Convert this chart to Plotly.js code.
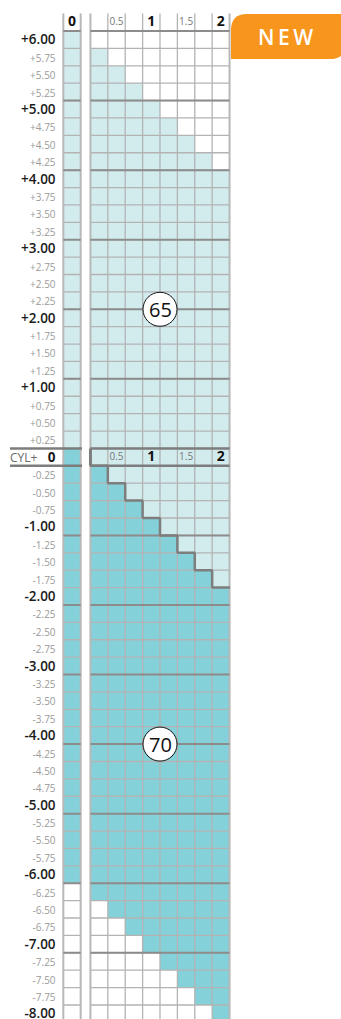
<!DOCTYPE html>
<html><head><meta charset="utf-8">
<script src="https://cdn.plot.ly/plotly-3.0.1.min.js"></script>
<style>html,body{margin:0;padding:0;background:#fff}#chart{width:341px;height:1019px}</style>
</head><body><div id="chart"></div>
<script>
// ---- data ----
const sphere = [6.00,5.75,5.50,5.25,5.00,4.75,4.50,4.25,4.00,3.75,3.50,3.25,3.00,2.75,2.50,2.25,2.00,1.75,1.50,1.25,1.00,0.75,0.50,0.25,
  0,
  -0.25,-0.50,-0.75,-1.00,-1.25,-1.50,-1.75,-2.00,-2.25,-2.50,-2.75,-3.00,-3.25,-3.50,-3.75,-4.00,-4.25,-4.50,-4.75,-5.00,-5.25,-5.50,-5.75,-6.00,-6.25,-6.50,-6.75,-7.00,-7.25,-7.50,-7.75,-8.00];
const cylinder = [0.25,0.50,0.75,1.00,1.25,1.50,1.75,2.00];
const cylHeaderValues = [0.5,1,1.5,2];
const cylHeaderLabels = ['0.5','<b>1</b>','1.5','<b>2</b>'];
// 0 = not available, 1 = index 65, 2 = index 70
const col0Avail = [1,1,1,1,1,1,1,1,1,1,1,1,1,1,1,1,1,1,1,1,1,1,1,1,
  2,
  2,2,2,2,2,2,2,2,2,2,2,2,2,2,2,2,2,2,2,2,2,2,2,2,0,0,0,0,0,0,0,0];
const cylAvail = [
  [0,0,0,0,0,0,0,0], // +6.00
  [1,0,0,0,0,0,0,0], // +5.75
  [1,1,0,0,0,0,0,0], // +5.50
  [1,1,1,0,0,0,0,0], // +5.25
  [1,1,1,1,0,0,0,0], // +5.00
  [1,1,1,1,1,0,0,0], // +4.75
  [1,1,1,1,1,1,0,0], // +4.50
  [1,1,1,1,1,1,1,0], // +4.25
  [1,1,1,1,1,1,1,1], // +4.00
  [1,1,1,1,1,1,1,1], // +3.75
  [1,1,1,1,1,1,1,1], // +3.50
  [1,1,1,1,1,1,1,1], // +3.25
  [1,1,1,1,1,1,1,1], // +3.00
  [1,1,1,1,1,1,1,1], // +2.75
  [1,1,1,1,1,1,1,1], // +2.50
  [1,1,1,1,1,1,1,1], // +2.25
  [1,1,1,1,1,1,1,1], // +2.00
  [1,1,1,1,1,1,1,1], // +1.75
  [1,1,1,1,1,1,1,1], // +1.50
  [1,1,1,1,1,1,1,1], // +1.25
  [1,1,1,1,1,1,1,1], // +1.00
  [1,1,1,1,1,1,1,1], // +0.75
  [1,1,1,1,1,1,1,1], // +0.50
  [1,1,1,1,1,1,1,1], // +0.25
  [1,1,1,1,1,1,1,1], // 0 (CYL+ row)
  [2,1,1,1,1,1,1,1], // -0.25
  [2,2,1,1,1,1,1,1], // -0.50
  [2,2,2,1,1,1,1,1], // -0.75
  [2,2,2,2,1,1,1,1], // -1.00
  [2,2,2,2,2,1,1,1], // -1.25
  [2,2,2,2,2,2,1,1], // -1.50
  [2,2,2,2,2,2,2,1], // -1.75
  [2,2,2,2,2,2,2,2], // -2.00
  [2,2,2,2,2,2,2,2], // -2.25
  [2,2,2,2,2,2,2,2], // -2.50
  [2,2,2,2,2,2,2,2], // -2.75
  [2,2,2,2,2,2,2,2], // -3.00
  [2,2,2,2,2,2,2,2], // -3.25
  [2,2,2,2,2,2,2,2], // -3.50
  [2,2,2,2,2,2,2,2], // -3.75
  [2,2,2,2,2,2,2,2], // -4.00
  [2,2,2,2,2,2,2,2], // -4.25
  [2,2,2,2,2,2,2,2], // -4.50
  [2,2,2,2,2,2,2,2], // -4.75
  [2,2,2,2,2,2,2,2], // -5.00
  [2,2,2,2,2,2,2,2], // -5.25
  [2,2,2,2,2,2,2,2], // -5.50
  [2,2,2,2,2,2,2,2], // -5.75
  [2,2,2,2,2,2,2,2], // -6.00
  [2,2,2,2,2,2,2,2], // -6.25
  [0,2,2,2,2,2,2,2], // -6.50
  [0,0,2,2,2,2,2,2], // -6.75
  [0,0,0,2,2,2,2,2], // -7.00
  [0,0,0,0,2,2,2,2], // -7.25
  [0,0,0,0,0,2,2,2], // -7.50
  [0,0,0,0,0,0,2,2], // -7.75
  [0,0,0,0,0,0,0,2]  // -8.00
];
const indexLabels = ['65','70'];
const indexCyl = [1.125,1.125];
const indexSph = [2.125,-4.125];

// ---- styling ----
const FONT = 'Open Sans, sans-serif';
const C_WHITE = '#ffffff', C65 = '#d2ecee', C70 = '#84d1da';
const THIN = '#b3b3b3', THICK = '#8c8c8c', DARK = '#7d7d7d';
const W = 341, H = 1019;
const px = p => p / W, py = p => 1 - p / H;
const HEADER_Y = 6.25, HALF = 0.125;

function tickText(v){
  if (v === 0) return '<span style="font-size:12px;color:#6a6a6a;font-weight:400">CYL+</span>\u00a0\u00a0\u00a0<span style="font-weight:700">0</span>';
  const s = (v > 0 ? '+' : '') + v.toFixed(2);
  if (Number.isInteger(v)) return '<span style="font-weight:600">' + s + '</span>';
  return '<span style="font-size:10px;color:#9a9a9a">' + s + '</span>';
}

const cs = [[0,C_WHITE],[0.5,C65],[1,C70]];
const traces = [
  {type:'heatmap', x:[-HALF, HALF], y:sphere, z:col0Avail.map(v=>[v]), xaxis:'x', yaxis:'y',
   colorscale:cs, zmin:0, zmax:2, showscale:false, hoverinfo:'skip'},
  {type:'heatmap', x:cylinder, y:sphere, z:cylAvail, xaxis:'x2', yaxis:'y',
   colorscale:cs, zmin:0, zmax:2, showscale:false, hoverinfo:'skip'},
  {type:'scatter', mode:'text', x:[0], y:[HEADER_Y], text:['<b>0</b>'], xaxis:'x', yaxis:'y',
   textfont:{family:FONT, size:14, color:'#111'}, hoverinfo:'skip'},
  {type:'scatter', mode:'text', x:cylHeaderValues, y:cylHeaderValues.map(()=>HEADER_Y), text:cylHeaderLabels, xaxis:'x2', yaxis:'y',
   textfont:{family:FONT, size:[10,14,10,14], color:['#777','#111','#777','#111']}, hoverinfo:'skip'},
  {type:'scatter', mode:'text', x:cylHeaderValues, y:cylHeaderValues.map(()=>0), text:cylHeaderLabels, xaxis:'x2', yaxis:'y',
   textfont:{family:FONT, size:[10,14,10,14], color:['#777','#111','#777','#111']}, hoverinfo:'skip'}
];

// ---- grid lines built from the data ----
const shapes = [];
const gridTop = HEADER_Y + HALF, gridBottom = sphere[sphere.length-1] - HALF;
function hline(xref, x0, x1, y, color, width){
  shapes.push({type:'line', xref, yref:'y', x0, x1, y0:y, y1:y, line:{color, width}, layer:'above'});
}
function vline(xref, x, y0, y1, color, width){
  shapes.push({type:'line', xref, yref:'y', x0:x, x1:x, y0, y1, line:{color, width}, layer:'above'});
}
const grids = [
  {xref:'x', edges:[-HALF, HALF]},
  {xref:'x2', edges:cylinder.map(c=>c-HALF).concat([cylinder[cylinder.length-1]+HALF])}
];
grids.forEach(g=>{
  const x0 = g.edges[0], x1 = g.edges[g.edges.length-1];
  sphere.forEach(s=>hline(g.xref, x0, x1, s - HALF, THIN, 1.3));
});
grids.forEach(g=>{
  g.edges.forEach((e,i)=>{
    const outer = (i===0 || i===g.edges.length-1);
    vline(g.xref, e, gridTop, gridBottom, outer ? '#b8b8b8' : THIN, outer ? 2 : 1.3);
  });
});
grids.forEach(g=>{
  const x0 = g.edges[0], x1 = g.edges[g.edges.length-1];
  sphere.forEach(s=>{
    if (s > 0 && Number.isInteger(s)) hline(g.xref, x0, x1, s + HALF, THICK, 2);
    if (s < 0 && Number.isInteger(s)) hline(g.xref, x0, x1, s - HALF, THICK, 2);
  });
});
hline('paper', px(10), px(82), HALF, DARK, 2.5);
hline('paper', px(10), px(82), -HALF, DARK, 2.5);
{
  const g = grids[1], x0 = g.edges[0], x1 = g.edges[g.edges.length-1];
  hline('x2', x0, x1, HALF, DARK, 2.5);
  hline('x2', x0, x1, -HALF, DARK, 2.5);
  vline('x2', x0, HALF, -HALF, DARK, 3);
}
for (let r = 0; r < sphere.length; r++){
  for (let c = 0; c < cylinder.length; c++){
    const v = cylAvail[r][c];
    if (c+1 < cylinder.length && v===2 && cylAvail[r][c+1]===1)
      vline('x2', cylinder[c]+HALF, sphere[r]+HALF, sphere[r]-HALF, DARK, 2.5);
    if (r+1 < sphere.length && v===1 && cylAvail[r+1][c]===2)
      hline('x2', cylinder[c]-HALF-0.006, cylinder[c]+HALF+0.006, sphere[r]-HALF, DARK, 2.5);
  }
}
// index badges (white circles above the grid lines)
const annotations = [];
indexLabels.forEach((lab,i)=>{
  shapes.push({type:'circle', xref:'x2', yref:'y', xsizemode:'pixel', ysizemode:'pixel',
    xanchor:indexCyl[i], yanchor:indexSph[i], x0:-17, x1:17, y0:-17, y1:17,
    fillcolor:'#ffffff', line:{color:'#111', width:1}, layer:'above'});
  annotations.push({xref:'x2', yref:'y', x:indexCyl[i], y:indexSph[i], text:lab, showarrow:false,
    xanchor:'center', yanchor:'middle', font:{family:FONT, size:20, color:'#111'}});
});
const tag = [
  'M', px(231), py(59), 'L', px(231), py(30), 'Q', px(231), py(14), px(247), py(14),
  'L', px(346), py(14), 'L', px(346), py(43), 'Q', px(346), py(59), px(330), py(59), 'Z'
].join(' ');
shapes.push({type:'path', xref:'paper', yref:'paper', path:tag, fillcolor:'#f7951d', line:{width:0}, layer:'above'});
annotations.push({xref:'paper', yref:'paper', x:px(285), y:py(37), xanchor:'center', yanchor:'middle',
    text:'N\u2009E\u2009W', showarrow:false, font:{family:FONT, size:21, color:'#fff', weight:600}});

const layout = {
  width:W, height:H, margin:{l:0,r:0,t:0,b:0}, paper_bgcolor:'#fff', plot_bgcolor:'rgba(0,0,0,0)',
  showlegend:false, font:{family:FONT},
  xaxis:{domain:[px(61.6), px(82.4)], range:[-0.15,0.15], visible:false, fixedrange:true},
  xaxis2:{domain:[px(88.7), px(231.3)], range:[0.1,2.15], visible:false, fixedrange:true, anchor:'y'},
  yaxis:{domain:[0,1], range:[-8.0765, 6.5706], tickvals:sphere, ticktext:sphere.map(tickText),
    ticks:'', showgrid:false, zeroline:false, showline:false, ticklabelstandoff:5, ticklabeloverflow:'allow',
    tickfont:{family:FONT, size:13.5, color:'#1a1a1a'}, anchor:'x', fixedrange:true},
  shapes,
  annotations
};
Plotly.newPlot('chart', traces, layout, {staticPlot:true, displayModeBar:false});
</script>
</body></html>
